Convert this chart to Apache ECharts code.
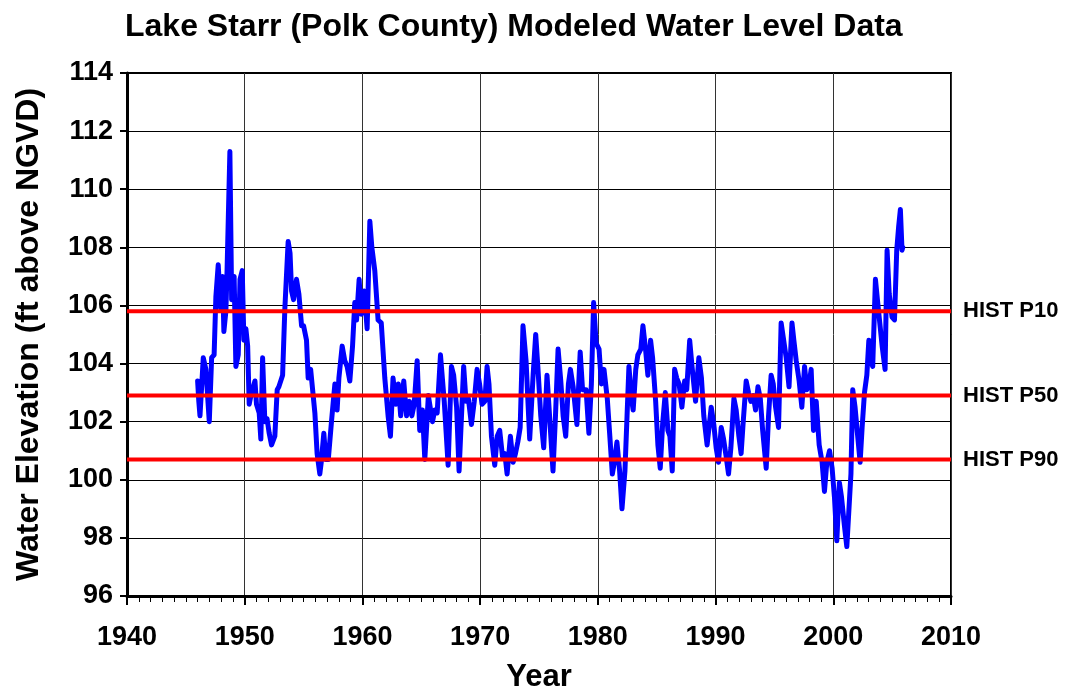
<!DOCTYPE html>
<html>
<head>
<meta charset="utf-8">
<script src="https://cdn.jsdelivr.net/npm/echarts@6/dist/echarts.min.js"></script>
<style>
  html, body { margin: 0; padding: 0; background: #fff; }
  #chart { width: 1067px; height: 691px; }
</style>
</head>
<body>
<div id="chart"></div>
<script>
// modeled lake level (decimal year / ft above NGVD)
var years = [
  1946.0, 1946.1, 1946.2, 1946.48, 1946.7, 1946.99, 1947.19, 1947.4, 1947.55, 1947.75,
  1947.95, 1948.12, 1948.23, 1948.4, 1948.5, 1948.74, 1948.89, 1949.1, 1949.25, 1949.45,
  1949.6, 1949.79, 1949.93, 1950.1, 1950.25, 1950.38, 1950.58, 1950.87, 1951.0, 1951.23,
  1951.37, 1951.52, 1951.71, 1951.9, 1952.08, 1952.28, 1952.56, 1952.76, 1952.9, 1953.22,
  1953.41, 1953.69, 1953.85, 1953.98, 1954.15, 1954.4, 1954.6, 1954.83, 1955.0, 1955.25,
  1955.39, 1955.6, 1955.96, 1956.15, 1956.38, 1956.5, 1956.72, 1956.89, 1957.1, 1957.37,
  1957.66, 1957.85, 1958.0, 1958.28, 1958.5, 1958.7, 1958.93, 1959.16, 1959.35, 1959.5,
  1959.72, 1959.9, 1960.15, 1960.4, 1960.63, 1960.8, 1961.05, 1961.33, 1961.6, 1961.9,
  1962.18, 1962.38, 1962.6, 1962.85, 1963.05, 1963.25, 1963.51, 1963.75, 1964.0, 1964.2,
  1964.4, 1964.65, 1964.87, 1965.1, 1965.3, 1965.6, 1965.95, 1966.15, 1966.35, 1966.63,
  1966.95, 1967.28, 1967.56, 1967.75, 1968.0, 1968.21, 1968.6, 1968.8, 1969.0, 1969.26,
  1969.5, 1969.74, 1969.95, 1970.16, 1970.4, 1970.59, 1970.75, 1970.96, 1971.24, 1971.45,
  1971.66, 1971.9, 1972.1, 1972.29, 1972.57, 1972.8, 1973.0, 1973.2, 1973.4, 1973.64,
  1973.9, 1974.21, 1974.5, 1974.72, 1974.9, 1975.15, 1975.4, 1975.68, 1976.19, 1976.4,
  1976.62, 1976.85, 1977.05, 1977.27, 1977.5, 1977.67, 1977.9, 1978.0, 1978.22, 1978.5,
  1978.7, 1979.0, 1979.24, 1979.45, 1979.64, 1979.85, 1980.1, 1980.3, 1980.52, 1980.8,
  1981.0, 1981.23, 1981.4, 1981.62, 1981.85, 1982.05, 1982.3, 1982.48, 1982.64, 1982.85,
  1983.0, 1983.22, 1983.4, 1983.65, 1983.83, 1984.05, 1984.25, 1984.48, 1984.65, 1984.91,
  1985.1, 1985.3, 1985.5, 1985.73, 1985.95, 1986.12, 1986.32, 1986.52, 1986.7, 1986.9,
  1987.14, 1987.37, 1987.55, 1987.8, 1988.0, 1988.3, 1988.58, 1988.8, 1989.0, 1989.28,
  1989.63, 1989.85, 1990.05, 1990.25, 1990.48, 1990.68, 1990.9, 1991.1, 1991.3, 1991.56,
  1991.75, 1991.98, 1992.17, 1992.35, 1992.6, 1992.8, 1993.0, 1993.2, 1993.4, 1993.6,
  1993.8, 1994.0, 1994.3, 1994.5, 1994.72, 1994.9, 1995.1, 1995.35, 1995.57, 1995.75,
  1996.0, 1996.24, 1996.49, 1996.65, 1996.85, 1997.1, 1997.33, 1997.56, 1997.75, 1997.95,
  1998.12, 1998.32, 1998.55, 1998.8, 1999.05, 1999.25, 1999.45, 1999.68, 1999.9, 2000.1,
  2000.3, 2000.52, 2000.7, 2000.95, 2001.15, 2001.3, 2001.5, 2001.65, 2001.85, 2002.05,
  2002.28, 2002.45, 2002.65, 2002.85, 2003.02, 2003.2, 2003.35, 2003.58, 2003.75, 2003.95,
  2004.15, 2004.4, 2004.57, 2004.75, 2004.99, 2005.2, 2005.39, 2005.55, 2005.7, 2005.84,
  2005.9
];
var levels = [
  103.4, 102.7, 102.2, 104.2, 103.8, 102.0, 104.2, 104.3, 106.3, 107.4,
  105.9, 107.0, 105.1, 105.8, 107.2, 111.3, 106.2, 107.0, 103.9, 104.3,
  106.9, 107.2, 104.8, 105.2, 104.6, 102.6, 103.0, 103.4, 102.6, 102.3,
  101.4, 104.2, 102.0, 102.1, 101.6, 101.2, 101.5, 103.1, 103.2, 103.6,
  105.9, 108.2, 107.8, 106.5, 106.2, 106.9, 106.4, 105.3, 105.3, 104.8,
  103.5, 103.8, 102.3, 100.9, 100.2, 100.6, 101.6, 100.7, 100.7, 102.0,
  103.3, 102.4, 103.5, 104.6, 104.1, 103.9, 103.4, 104.6, 106.1, 105.5,
  106.9, 105.7, 106.5, 105.2, 108.9, 108.0, 107.2, 105.5, 105.4, 103.5,
  102.2, 101.5, 103.5, 102.6, 103.3, 102.2, 103.4, 102.2, 102.7, 102.2,
  102.6, 104.1, 101.7, 102.4, 100.7, 102.9, 102.0, 102.4, 102.3, 104.3,
  102.7, 100.5, 103.9, 103.6, 102.5, 100.3, 103.9, 102.7, 102.8, 101.9,
  102.7, 103.8, 103.3, 102.6, 102.7, 103.9, 103.3, 101.5, 100.5, 101.5,
  101.7, 100.8, 100.9, 100.2, 101.5, 100.6, 100.9, 101.3, 101.8, 105.3,
  104.1, 101.4, 103.6, 105.0, 103.9, 102.2, 101.1, 103.6, 100.3, 102.2,
  104.5, 103.4, 102.2, 101.5, 103.3, 103.8, 103.2, 102.8, 101.9, 104.4,
  103.1, 103.1, 101.6, 103.3, 106.1, 104.7, 104.5, 103.3, 103.8, 102.8,
  101.6, 100.2, 100.6, 101.3, 100.3, 99.0, 100.3, 102.2, 103.9, 102.8,
  102.4, 103.8, 104.3, 104.5, 105.3, 104.5, 103.6, 104.8, 104.2, 102.7,
  101.2, 100.4, 101.9, 103.0, 101.7, 101.5, 100.3, 103.8, 103.5, 103.3,
  102.5, 103.4, 103.1, 104.8, 103.9, 102.7, 104.2, 103.5, 102.2, 101.2,
  102.5, 101.9, 101.1, 100.6, 101.8, 101.4, 100.8, 100.2, 101.1, 102.8,
  102.4, 101.5, 100.9, 102.0, 103.4, 103.0, 102.7, 102.9, 102.4, 103.2,
  102.8, 101.7, 100.4, 102.2, 103.6, 103.3, 102.5, 101.8, 105.4, 104.9,
  104.2, 103.2, 105.4, 104.8, 104.1, 103.4, 102.5, 103.9, 103.1, 103.3,
  103.8, 101.7, 102.7, 101.2, 100.6, 99.6, 100.6, 101.0, 100.4, 99.4,
  97.9, 99.9, 99.4, 98.4, 97.7, 97.7, 100.2, 103.1, 102.5, 101.6,
  100.6, 101.8, 103.0, 103.6, 104.8, 104.1, 103.9, 106.9, 106.2, 105.4,
  104.6, 103.8, 107.9, 106.4, 105.6, 105.5, 107.9, 108.7, 109.3, 107.9,
  108.0
];

// historic percentiles
var histNames = ['HIST P10', 'HIST P50', 'HIST P90'];
var histValues = [105.8, 102.9, 100.7];

var xMin = 1940, xMax = 2010;
var FONT = '"Liberation Sans", Arial, sans-serif';

var lakeData = years.map(function (y, i) { return [y, levels[i]]; });

var histSeries = histNames.map(function (name, i) {
  return {
    name: name,
    type: 'line',
    data: [[xMin, histValues[i]], [xMax, histValues[i]]],
    showSymbol: false,
    silent: true,
    z: 5,
    lineStyle: { color: '#ff0000', width: 4 },
    endLabel: {
      show: true,
      formatter: name,
      distance: 12,
      color: '#000',
      fontFamily: FONT,
      fontWeight: 'bold',
      fontSize: 22
    }
  };
});

var myChart = echarts.init(document.getElementById('chart'));
var option = {
  backgroundColor: '#fff',
  animation: false,
  title: {
    text: 'Lake Starr (Polk County) Modeled Water Level Data',
    left: 120,
    top: 6,
    textStyle: { fontFamily: FONT, fontWeight: 'bold', fontSize: 32, color: '#000' }
  },
  grid: {
    left: 127, right: 116, top: 73, bottom: 95,
    outerBoundsMode: 'none',
    show: true, borderColor: '#000', borderWidth: 2
  },
  xAxis: {
    type: 'value',
    min: xMin,
    max: xMax,
    interval: 10,
    name: 'Year',
    nameLocation: 'middle',
    nameGap: 66,
    nameTextStyle: { fontFamily: FONT, fontWeight: 'bold', fontSize: 31, color: '#000' },
    axisLine: { show: true, onZero: false, lineStyle: { color: '#000', width: 3 } },
    axisTick: { show: true, inside: false, length: 9, lineStyle: { color: '#000', width: 2 } },
    minorTick: { show: true, splitNumber: 10, length: 6, lineStyle: { color: '#000', width: 1 } },
    splitLine: { show: true, lineStyle: { color: '#333', width: 1 } },
    axisLabel: {
      margin: 28,
      formatter: function (v) { return String(v); },
      fontFamily: FONT, fontWeight: 'bold', fontSize: 27, color: '#000'
    }
  },
  yAxis: {
    type: 'value',
    min: 96,
    max: 114,
    interval: 2,
    name: 'Water Elevation (ft above NGVD)',
    nameLocation: 'middle',
    nameGap: 82,
    nameTextStyle: { fontFamily: FONT, fontWeight: 'bold', fontSize: 32, color: '#000' },
    axisLine: { show: true, lineStyle: { color: '#000', width: 3 } },
    axisTick: { show: true, inside: false, length: 7, lineStyle: { color: '#000', width: 2 } },
    splitLine: { show: true, lineStyle: { color: '#000', width: 1 } },
    axisLabel: {
      margin: 14,
      fontFamily: FONT, fontWeight: 'bold', fontSize: 27, color: '#000'
    }
  },
  series: [
    {
      name: 'Modeled',
      type: 'line',
      data: lakeData,
      showSymbol: false,
      z: 3,
      lineStyle: { color: '#0000ff', width: 5, cap: 'round', join: 'round' }
    }
  ].concat(histSeries)
};
myChart.setOption(option);
</script>
</body>
</html>
